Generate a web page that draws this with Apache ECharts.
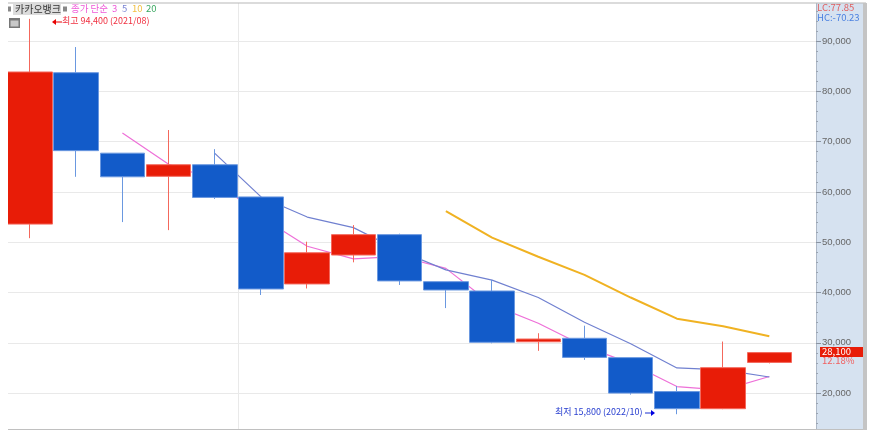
<!DOCTYPE html>
<html><head><meta charset="utf-8">
<style>html,body{margin:0;padding:0;background:#fff}#c{width:882px;height:431px}</style>
<script src="https://cdn.jsdelivr.net/npm/echarts@6/dist/echarts.min.js"></script>
</head><body><div id="c"></div>
<script>
const categories=['2021/08','2021/09','2021/10','2021/11','2021/12','2022/01','2022/02','2022/03','2022/04','2022/05','2022/06','2022/07','2022/08','2022/09','2022/10','2022/11','2022/12'];
const opens =[53600,83700,67700,63100,65400,59000,41700,47450,51500,42150,40300,30200,30900,27050,20300,16900,26100];
const closes=[83840,68200,63000,65400,58900,40700,47900,51500,42300,40500,30100,30750,27100,20000,16900,25050,28050];
const lows  =[50800,63000,54000,52400,58600,39500,40800,46000,41500,36900,29900,28400,26600,19700,15800,16800,25900];
const highs =[94400,88800,67700,72300,68500,59000,50100,53400,51700,42150,42500,31900,33400,27050,21400,30250,28100];
const ma3 =[null,null,71700,65500,62400,55000,49200,46700,47200,44800,37600,33900,29300,25900,21300,20600,23300];
const ma5 =[null,null,null,null,67660,59000,55000,52900,48300,44500,42460,39000,34100,29800,25000,24600,23200];
const ma10=[null,null,null,null,null,null,null,null,null,56200,50900,47100,43500,39000,34800,33300,31300];
const yTicks={min:10000,max:100000,interval:10000};
const xOf=i=>i;
const F='"Noto Sans CJK KR","Liberation Sans",sans-serif';
const txt=(x,y,s,c,size)=>({type:'text',z:20,left:x,top:y,style:{text:s,fill:c,font:(size||9)+'px '+F}});
const rect=(x,y,w,h,c,z,extra)=>({type:'rect',z:z==null?20:z,shape:{x,y,width:w,height:h},style:Object.assign({fill:c},extra||{})});
const line=(x1,y1,x2,y2,c,w)=>({type:'line',z:21,shape:{x1,y1,x2,y2},style:{stroke:c,lineWidth:w||1}});
const poly=(pts,c)=>({type:'polygon',z:21,shape:{points:pts},style:{fill:c}});
const chart=echarts.init(document.getElementById('c'),null,{renderer:'canvas'});
const pair=a=>a.map((v,i)=>[xOf(i),v]);
const maSeries=(name,a,c,w)=>({name,type:'line',data:pair(a),showSymbol:false,symbol:'none',z:1,connectNulls:false,lineStyle:{color:c,width:w},silent:true});
chart.setOption({
  animation:false,
  backgroundColor:'#fff',
  grid:{left:8,right:66,top:-9.3,height:452.7,containLabel:false,outerBoundsMode:'none'},
  xAxis:{type:'value',min:-0.476,max:17.01,show:false,splitLine:{show:false}},
  yAxis:{type:'value',position:'right',min:yTicks.min,max:yTicks.max,interval:yTicks.interval,
    axisLine:{show:true,onZero:false,lineStyle:{color:'#aeb8c6'}},
    axisTick:{show:true,length:5,lineStyle:{color:'#8a94a2'}},
    minorTick:{show:true,splitNumber:5,length:2,lineStyle:{color:'#9aa4b2'}},
    axisLabel:{show:true,margin:6,color:'#666',fontSize:9.5,fontFamily:'"Liberation Sans",sans-serif',
      formatter:v=>v.toLocaleString('en-US')},
    splitLine:{show:true,lineStyle:{color:'#e9e9e9',width:1}},minorSplitLine:{show:false}},
  series:[
    maSeries('3',ma3,'#ee70d8',1.2),
    maSeries('5',ma5,'#7080d0',1.2),
    maSeries('10',ma10,'#f0b222',2),
    {type:'candlestick',z:3,barWidth:45,
     data:categories.map((c,i)=>[xOf(i),opens[i],closes[i],lows[i],highs[i]]),
     encode:{x:0,y:[1,2,3,4]},
     itemStyle:{color:'#e81c07',color0:'#125bc9',borderColor:'#f4685c',borderColor0:'#6a98e0',borderWidth:1},
     markLine:{silent:true,symbol:'none',label:{show:false},z:0,
       lineStyle:{color:'#e9e9e9',width:1,type:'solid'},data:[{xAxis:4.5}]}}
  ],
  graphic:[
    rect(816.5,3,46.5,426,'#d6e2f0',-1),
    rect(0,0,882,3,'#fff',15),
    rect(0,0,8,431,'#fff',15),
    rect(0,430,882,1,'#fff',15),
    rect(8,2.5,858,1,'#b8b8b8',16),
    rect(8,429,858,1,'#c0c0c0',16),
    rect(863,3,4,427,'#c4c4c4',16),
    rect(867,0,15,431,'#fff',15),
    // header
    rect(8,6.5,3,5,'#888',20),
    rect(13,4,48,11,'#dcdcdc',19),
    txt(15,4,'카카오뱅크','#333',10),
    rect(63,6.5,4,5,'#888',20),
    txt(71,4,'종가 단순','#ee5ad8',9.5),
    txt(112,4,'3','#ee5ad8',9.5),
    txt(122,4,'5','#7a84d4',9.5),
    txt(132,4,'10','#f2c040',9.5),
    txt(146,4,'20','#3aa860',9.5),
    rect(9,18,11,10,'#777',20),
    rect(10.5,20.5,8,6,'#c8c8c8',21),
    poly([[52,22],[56,19],[56,25]],'#e80000'),
    line(55,22,62,22,'#e80000',1),
    txt(62,16,'최고 94,400 (2021/08)','#f03040',9),
    // right panel texts
    txt(817,3,'LC:77.85','#e06060',9.5),
    txt(817,13,'HC:-70.23','#4a80e0',9.5),
    rect(820,347,43,10,'#e81c07',20),
    txt(822,346.5,'28,100','#fff',9.5),
    txt(822,356,'12.18%','#f06060',9.5),
    // low annotation
    txt(555,407,'최저 15,800 (2022/10)','#2a40d0',9),
    line(645,413,652,413,'#1a30d0',1),
    poly([[655,413],[651,410],[651,416]],'#0000e0')
  ]
});
</script></body></html>
